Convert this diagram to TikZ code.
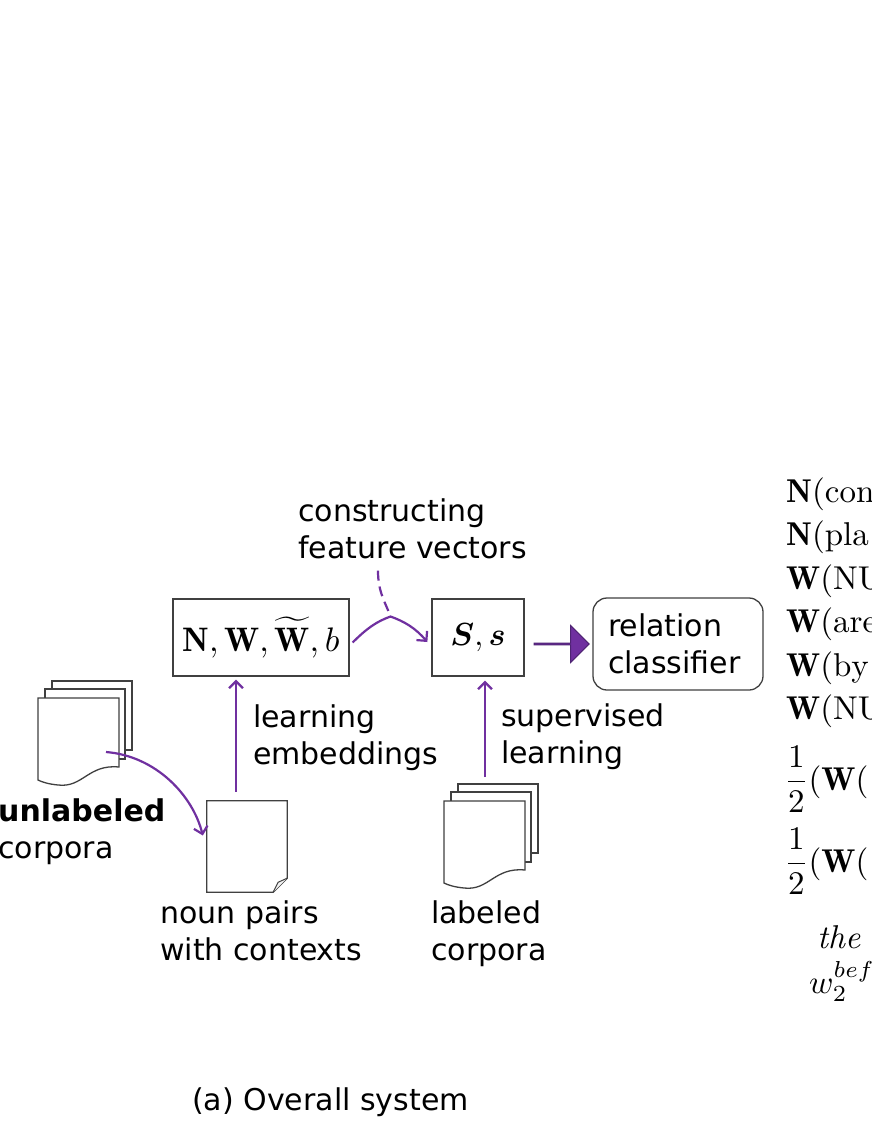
\documentclass[tikz,border=0pt]{standalone}
\usepackage{amsmath}
\usepackage{graphicx}
\usepackage{fontspec}
\usepackage{tikz}
\usetikzlibrary{arrows.meta,shapes.arrows,calc,positioning}
\newfontfamily\vsans{DejaVu Sans}
\definecolor{flowpurple}{HTML}{7030A0}
\definecolor{arrowedge}{HTML}{4E2373}
\definecolor{boxgray}{HTML}{404040}
\newcommand{\eqscale}[2]{\scalebox{#1}{#2}}

\tikzset{
  docstack/.pic={
    \draw[sheet] (14,-17) rectangle (94,52);
    \draw[sheet] (7,-9) rectangle (87,61);
    \draw[sheet] (0,0) -- (81,0) -- (81,69)
      .. controls (50,66) and (45,90) .. (20,87)
      .. controls (10,86) and (4,84) .. (0,82) -- cycle;
    \coordinate (-out) at (68,54);
    \coordinate (-in) at (41,-24);
  }
}

\begin{document}
\begin{tikzpicture}[x=1pt, y=-1pt,
    lbl/.style={font=\vsans\fontsize{30}{37}\selectfont, inner sep=0pt,
      align=left, anchor=base west},
    mathbox/.style={draw=boxgray, line width=1.3pt, inner sep=0pt},
    flow/.style={draw=flowpurple, line width=2.2pt,
      -{Straight Barb[length=7pt,width=14pt]}},
    sheet/.style={draw=boxgray, line width=1.3pt, fill=white},
    eqline/.style={inner sep=0pt, anchor=base west}]

    \fill[white] (0,0) rectangle (872,1128);
    \useasboundingbox (0,0) rectangle (872,1128);

    %% -- boxes -------------------------------------------------------
    \node[mathbox, minimum width=176pt, minimum height=77pt] (nwb)
        at (261,637.5)
        {\eqscale{3.4}{$\mathbf{N},\mathbf{W},\widetilde{\mathbf{W}},b$}};
    \node[mathbox, minimum width=92pt, minimum height=77pt] (ssb)
        at (478,637.5) {\eqscale{3.2}{$\boldsymbol{S},\boldsymbol{s}$}};
    \node[draw=boxgray, line width=1.3pt, rounded corners=14pt,
          font=\vsans\fontsize{30}{37}\selectfont, align=left,
          text width=140pt, inner xsep=15pt, inner ysep=0pt,
          minimum height=92pt] (rc)
        at (678,644) {relation\\classifier};

    %% -- block arrow -------------------------------------------------
    \node[single arrow, fill=flowpurple, draw=arrowedge, line width=1pt,
          minimum height=55pt, minimum width=37pt, inner sep=0pt,
          single arrow head extend=9pt, anchor=west] (bar)
        at ($(ssb.east |- rc.west)+(9,0)$) {};

    %% -- documents ---------------------------------------------------
    \pic (ulc) at (38,698) {docstack};
    \pic (lbc) at (444,801) {docstack};
    \node[minimum width=80pt, minimum height=91pt, inner sep=0pt] (npd)
        at (247,846.5) {};
    \draw[sheet] (npd.north west) -- (npd.north east)
        -- ($(npd.south east)+(0,-14)$) -- ($(npd.south east)+(-14,0)$)
        -- (npd.south west) -- cycle;
    \draw[sheet, line width=1pt, fill=gray!10] ($(npd.south east)+(0,-14)$)
        -- ($(npd.south east)+(-9,-10)$) -- ($(npd.south east)+(-14,0)$);

    %% -- labels (base = last line) ------------------------------------
    \node[lbl] (cfv) at (298,558) {constructing\\feature vectors};
    \node[lbl] (lel) at (253,764) {learning\\embeddings};
    \node[lbl] (sul) at (501,763) {supervised\\learning};
    \node[lbl] (ull) at (-2,858) {\textbf{unlabeled}\\corpora};
    \node[lbl] (npl) at (160,960) {noun pairs\\with contexts};
    \node[lbl] (lcl) at (431,960) {labeled\\corpora};
    \node[lbl] (cap) at (192,1110) {(a) Overall system};

    %% -- connectors --------------------------------------------------
    \coordinate (peak) at ($(nwb.east)!0.5!(ssb.west)+(0,-21)$);
    \draw[flowpurple, line width=2.2pt, dash pattern=on 10pt off 6pt]
        ($(cfv.south west)+(80,12)$) .. controls +(0,22) and +(-5,-14) .. (peak);
    \draw[flow] ($(nwb.east)+(3,5)$) .. controls +(14,-14) and +(-14,5) .. (peak)
        .. controls +(14,5) and +(-12,-14) .. ($(ssb.west)+(-4,4.5)$);
    \draw[flow] (ulc-out) .. controls +(50,4) and +(-10,-40)
        .. ($(npd.west)+(-4,-11)$);
    \draw[flow] ($(npd.north)+(-11,-9)$) coordinate (le)
        -- ([yshift=-3pt]le |- nwb.south);
    \draw[flow] (lbc-in) -- ([yshift=-4pt]lbc-in |- ssb.south);

    %% -- equations (cut at the right edge) ---------------------------
    \begin{scope}
        \clip (770,470) rectangle (872,1030);
        \node[eqline] (eqa) at (786,502) {\eqscale{3.3}{$\mathbf{N}(\mathrm{con}$}};
        \node[eqline] (eqb) at (786,545.5) {\eqscale{3.3}{$\mathbf{N}(\mathrm{pla}$}};
        \node[eqline] (eqc) at (786,589) {\eqscale{3.3}{$\mathbf{W}(\mathrm{NU}$}};
        \node[eqline] (eqd) at (786,632.5) {\eqscale{3.3}{$\mathbf{W}(\mathrm{are}$}};
        \node[eqline] (eqe) at (786,676) {\eqscale{3.3}{$\mathbf{W}(\mathrm{by}$}};
        \node[eqline] (eqf) at (786,719.5) {\eqscale{3.3}{$\mathbf{W}(\mathrm{NU}$}};
        \node[eqline] (eqg) at (784,790) {\eqscale{3.3}{$\dfrac{1}{2}(\mathbf{W}($}};
        \node[eqline] (eqh) at (784,872) {\eqscale{3.3}{$\dfrac{1}{2}(\mathbf{W}($}};
        \node[eqline] (eqi) at (817,948) {\eqscale{3.3}{$\mathit{the}$}};
        \node[eqline] (eqj) at (809,993) {\eqscale{3.3}{$w_2^{bef}$}};
    \end{scope}

\end{tikzpicture}
\end{document}
